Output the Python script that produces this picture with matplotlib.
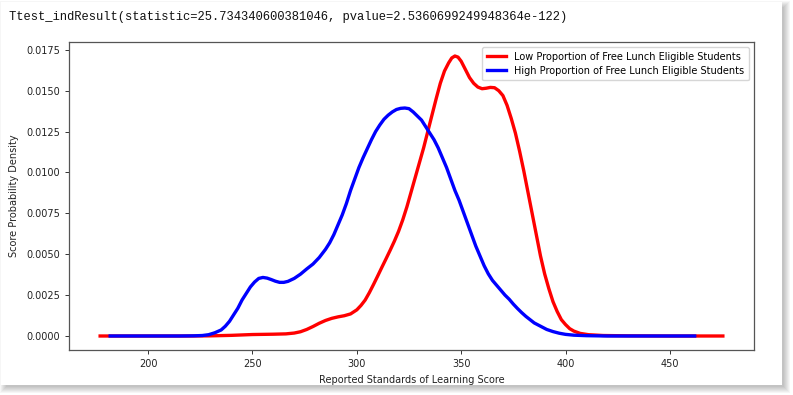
import matplotlib
matplotlib.use("Agg")
import matplotlib.pyplot as plt
from matplotlib.patches import Rectangle

# ---- data ----
low_x = [177, 200, 220, 230, 240, 250, 260, 266, 270, 273, 276, 279, 282, 285, 288, 291, 294,
         297, 300, 302, 304, 306, 308, 310, 312, 314, 316, 318, 320, 322, 324, 326, 328, 330,
         332, 334, 336, 338, 340, 342, 344, 345.5, 347, 348.5, 350, 352, 354, 356, 358, 360,
         362, 364, 366, 368, 370, 372, 374, 376, 378, 380, 382, 384, 386, 388, 390, 392, 394,
         396, 398, 400, 402, 404, 407, 411, 418, 430, 450, 475.4]
low_y = [0, 0, 0, 0.00001, 0.00004, 0.00009, 0.00011, 0.00013, 0.00018, 0.00026, 0.0004,
         0.00058, 0.00078, 0.00095, 0.00108, 0.00117, 0.00124, 0.00135, 0.0016, 0.00187,
         0.0022, 0.00265, 0.00315, 0.00367, 0.0042, 0.00472, 0.00525, 0.0058, 0.0064, 0.0071,
         0.0079, 0.0088, 0.0097, 0.0106, 0.0115, 0.0125, 0.0135, 0.0145, 0.01545, 0.0162,
         0.0167, 0.01700, 0.01712, 0.01705, 0.0168, 0.0163, 0.0158, 0.01545, 0.01522,
         0.01512, 0.01515, 0.0152, 0.01518, 0.0150, 0.0147, 0.0141, 0.0133, 0.0124, 0.0113,
         0.0101, 0.0088, 0.0075, 0.0062, 0.0049, 0.0038, 0.0029, 0.0021, 0.0015, 0.0010,
         0.0007, 0.00045, 0.0003, 0.00016, 0.00008, 0.00003, 0.00001, 0, 0]

high_x = [181.8, 200, 215, 222, 226, 229, 232, 235, 237, 239, 241, 243, 245, 247, 249, 251,
          253, 255, 257, 259, 261, 263, 265, 267, 270, 273, 276, 279, 282, 285, 287, 289, 291,
          293, 295, 297, 299, 301, 303, 305, 307, 309, 311, 313, 315, 317, 319, 321, 323, 325,
          327, 329, 331, 333, 335, 337, 339, 341, 343, 345, 347, 349, 351, 353, 355, 357, 359,
          361, 363, 365, 367, 369, 371, 373, 375, 377, 379, 381, 383, 385, 388, 391, 394, 397,
          400, 404, 410, 420, 461.9]
high_y = [0, 0, 0, 0.00001, 0.00003, 0.00008, 0.0002, 0.00037, 0.0006, 0.0009, 0.0013,
          0.0017, 0.0022, 0.0026, 0.0030, 0.0033, 0.00352, 0.00358, 0.00354, 0.00345, 0.00335,
          0.00328, 0.00328, 0.00334, 0.00352, 0.00378, 0.0041, 0.0044, 0.0048, 0.0053, 0.0057,
          0.0062, 0.0068, 0.0074, 0.0081, 0.0089, 0.0096, 0.0103, 0.0109, 0.01145, 0.0120,
          0.0125, 0.0129, 0.01325, 0.0135, 0.0137, 0.01385, 0.01392, 0.01394, 0.0139, 0.0137,
          0.01345, 0.0132, 0.0128, 0.0124, 0.0120, 0.0115, 0.0109, 0.0103, 0.0096, 0.0089,
          0.0083, 0.0076, 0.0069, 0.0062, 0.0055, 0.0049, 0.0043, 0.0038, 0.0034, 0.0031,
          0.0028, 0.0025, 0.00225, 0.00195, 0.00168, 0.00143, 0.0012, 0.0010, 0.0008, 0.0006,
          0.0004, 0.00027, 0.00017, 0.0001, 0.00005, 0.00002, 0, 0]

labels = ["Low Proportion of Free Lunch Eligible Students",
          "High Proportion of Free Lunch Eligible Students"]
title_text = "Ttest_indResult(statistic=25.734340600381046, pvalue=2.5360699249948364e-122)"

W, H = 793, 395
fig = plt.figure(figsize=(W / 100, H / 100), dpi=100, facecolor="white")

def px_rect(x0, y0, x1, y1, **kw):
    # pixel coords (top-down) -> figure fraction
    return Rectangle((x0 / W, 1 - y1 / H), (x1 - x0) / W, (y1 - y0) / H,
                     transform=fig.transFigure, **kw)

# soft shadow of the screenshot panel
for i in range(7):
    fig.patches.append(px_rect(2 + 4 - i, 3 + 4 - i, 782 + 2 + i, 385 + 2 + i,
                               facecolor="black", edgecolor="none", alpha=0.035, zorder=-10))
fig.patches.append(px_rect(1, 2, 782, 385, facecolor="white", edgecolor="none", zorder=-9))

fig.text(9 / W, 1 - 17 / H, title_text, family="Liberation Mono", fontsize=8.7,
         va="center", ha="left", color="#111111")

ax = fig.add_axes([69 / W, 1 - 350 / H, (754 - 69) / W, (350 - 42) / H])
ax.plot(low_x, low_y, color="red", lw=2.4, label=labels[0], solid_joinstyle="round")
ax.plot(high_x, high_y, color="blue", lw=2.4, label=labels[1], solid_joinstyle="round")

ax.set_xticks([200, 250, 300, 350, 400, 450])
ax.set_yticks([0, 0.0025, 0.005, 0.0075, 0.01, 0.0125, 0.015, 0.0175])
ax.yaxis.set_major_formatter(matplotlib.ticker.FormatStrFormatter("%.4f"))
ax.tick_params(labelsize=7, length=3, width=0.7, colors="#333333", labelcolor="#222222")
for s in ax.spines.values():
    s.set_color("#555555")
    s.set_linewidth(0.9)

ax.set_xlabel("Reported Standards of Learning Score", fontsize=7, color="#222222", labelpad=4)
ax.set_ylabel("Score Probability Density", fontsize=7, color="#222222", labelpad=5)
ax.legend(loc="upper right", fontsize=7, handlelength=2.0, borderpad=0.5,
          labelspacing=0.4, framealpha=0.8)

fig.savefig("out.png", dpi=100, facecolor="white")
